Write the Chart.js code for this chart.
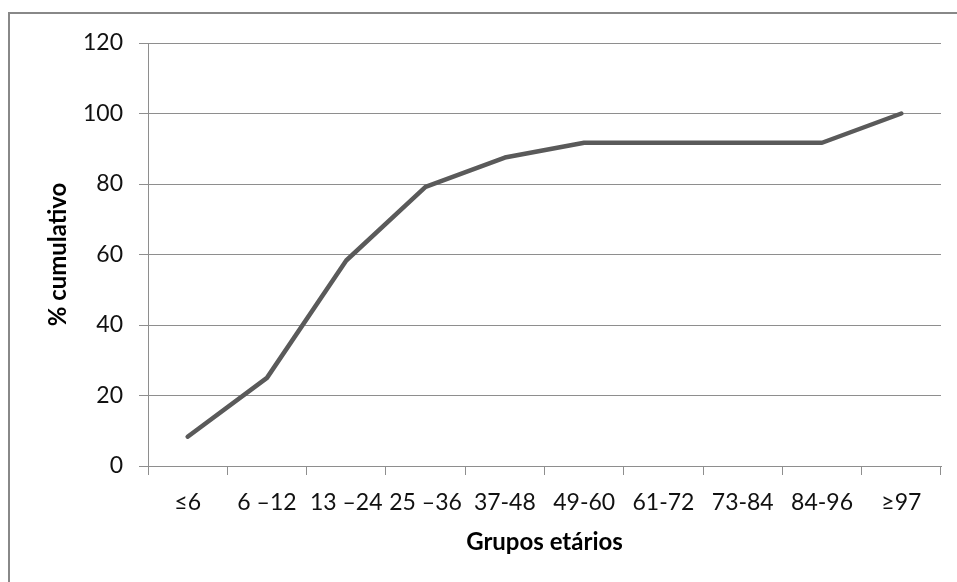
<!DOCTYPE html>
<html>
<head>
<meta charset="utf-8">
<script src="https://cdn.jsdelivr.net/npm/chart.js@4/dist/chart.umd.min.js"></script>
<style>
  html, body { margin: 0; padding: 0; background: #fff; }
  #wrap { position: relative; width: 957px; height: 582px; overflow: hidden; }
  #frame { position: absolute; left: 8px; top: 12px; width: 970px; height: 600px; border: 2px solid #888; box-sizing: border-box; }
  #cumChart { position: absolute; left: 0; top: 0; }
</style>
</head>
<body>
<div id="wrap">
  <div id="frame"></div>
  <canvas id="cumChart" width="957" height="582"></canvas>
</div>
<script>
const ageGroups = ['≤6', '6 –12', '13 –24', '25 –36', '37-48', '49-60', '61-72', '73-84', '84-96', '≥97']
const cumulativePct = [8.3, 25, 58.3, 79.2, 87.5, 91.7, 91.7, 91.7, 91.7, 100]
const yTicks = [0, 20, 40, 60, 80, 100, 120]

const fontFamily = 'Lato, "Open Sans", sans-serif'
const axisGrey = '#8e8e8e'

const ctx = document.getElementById('cumChart')
new Chart(ctx, {
  type: 'line',
  data: {
    labels: ageGroups,
    datasets: [{
      label: '% cumulativo',
      data: cumulativePct,
      borderColor: '#5a5a5a',
      borderWidth: 4.5,
      borderCapStyle: 'round',
      borderJoinStyle: 'round',
      pointRadius: 0,
      tension: 0,
      fill: false
    }]
  },
  options: {
    responsive: false,
    animation: false,
    layout: { padding: { top: 43, right: 16, left: 0, bottom: 0 } },
    plugins: {
      legend: { display: false },
      tooltip: { enabled: false }
    },
    scales: {
      x: {
        offset: true,
        afterFit: (scale) => { scale.height = 116 },
        grid: {
          offset: true,
          drawOnChartArea: false,
          drawTicks: true,
          tickLength: 9,
          color: axisGrey
        },
        border: { display: true, color: axisGrey, width: 1 },
        ticks: {
          autoSkip: false,
          maxRotation: 0,
          padding: 14,
          color: '#111',
          font: { family: fontFamily, size: 23 }
        },
        title: {
          display: true,
          text: 'Grupos etários',
          color: '#000',
          font: { family: fontFamily, size: 24, weight: 'bold' },
          padding: { top: 0, bottom: 25 }
        }
      },
      y: {
        min: 0,
        max: 120,
        afterFit: (scale) => { scale.width = 148 },
        afterBuildTicks: (scale) => { scale.ticks = yTicks.map(v => ({ value: v })) },
        grid: {
          color: axisGrey,
          tickLength: 9
        },
        border: { display: true, color: axisGrey, width: 1 },
        ticks: {
          padding: 16,
          color: '#111',
          font: { family: fontFamily, size: 23 }
        },
        title: {
          display: true,
          text: '% cumulativo',
          color: '#000',
          font: { family: fontFamily, size: 24, weight: 'bold' },
          padding: { top: 44, bottom: 0 }
        }
      }
    }
  }
})
</script>
</body>
</html>
